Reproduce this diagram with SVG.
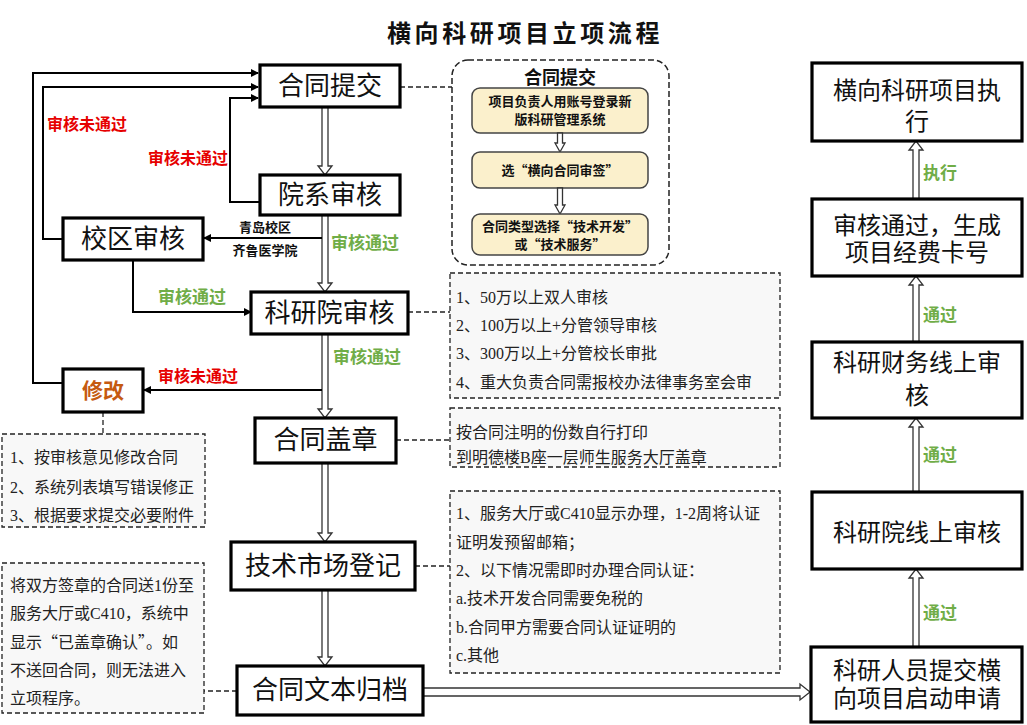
<svg xmlns="http://www.w3.org/2000/svg" width="1027" height="725" viewBox="0 0 1027 725">
<defs>
<marker id="ah" markerWidth="8" markerHeight="8" refX="7" refY="4" orient="auto" markerUnits="userSpaceOnUse">
<path d="M0,0 L8,4 L0,8 Z" fill="#000"/>
</marker>
<style>
.node{fill:#fff;stroke:#000;stroke-width:3.2}
.nt{font-family:"Liberation Serif","Noto Sans CJK SC",serif;font-size:26px;fill:#111;text-anchor:middle}
.rt{font-family:"Liberation Serif","Noto Sans CJK SC",serif;font-size:24px;fill:#111;text-anchor:middle}
.line{fill:none;stroke:#000;stroke-width:2}
.dash{fill:none;stroke:#222;stroke-width:1.3;stroke-dasharray:5 3}
.dbl{fill:#fff;stroke:#333;stroke-width:1.3}
.note{fill:#f8f8f8;stroke:#222;stroke-width:1.3;stroke-dasharray:5 3}
.nx{font-family:"Liberation Serif","Noto Sans CJK SC",serif;font-size:16px;fill:#222}
.red{font-family:"Noto Sans CJK SC",sans-serif;font-size:16px;font-weight:bold;fill:#e60000}
.grn{font-family:"Noto Sans CJK SC",sans-serif;font-size:17px;font-weight:bold;fill:#70ad47}
.sm{font-family:"Noto Sans CJK SC",sans-serif;font-size:13px;font-weight:bold;fill:#111;text-anchor:middle}
.yb{fill:#fbf0cc;stroke:#444;stroke-width:1.5}
.yt{font-family:"Noto Sans CJK SC",sans-serif;font-size:13px;font-weight:bold;fill:#111;text-anchor:middle}
.q{font-family:"Noto Sans CJK SC",sans-serif;font-feature-settings:"fwid" 1}
</style>
</defs>
<rect width="1027" height="725" fill="#fff"/>
<text x="525" y="42" style="font-family:'Noto Sans CJK SC',sans-serif;font-size:24px;font-weight:bold;letter-spacing:3.6px" text-anchor="middle" fill="#111">横向科研项目立项流程</text>

<g id="connectors">
<path class="dbl" d="M322 107 V166 H318 L325 175 L332 166 H328 V107 Z"/>
<path class="dbl" d="M322 215 V283 H318 L325 292 L332 283 H328 V215 Z"/>
<path class="dbl" d="M322 334 V409 H318 L325 418 L332 409 H328 V334 Z"/>
<path class="dbl" d="M322 463 V533 H318 L325 542 L332 533 H328 V463 Z"/>
<path class="dbl" d="M322 590 V657 H318 L325 666 L332 657 H328 V590 Z"/>
<path class="dbl" d="M913 199 V150 H909 L916 141 L923 150 H919 V199 Z"/>
<path class="dbl" d="M913 342 V285 H909 L916 276 L923 285 H919 V342 Z"/>
<path class="dbl" d="M913 492 V427 H909 L916 418 L923 427 H919 V492 Z"/>
<path class="dbl" d="M913 647 V578 H909 L916 569 L923 578 H919 V647 Z"/>
<path class="dbl" d="M423 688 H800 V684 L810 692 L800 700 V696 H423 Z"/>
<path class="line" d="M260 202 H230 V98 H258" marker-end="url(#ah)"/>
<path class="line" d="M63 239 H43 V87 H258" marker-end="url(#ah)"/>
<path class="line" d="M63 383 H33 V73 H258" marker-end="url(#ah)"/>
<path class="line" d="M322 238 H204" marker-end="url(#ah)"/>
<path class="line" d="M133 260 V312 H251" marker-end="url(#ah)"/>
<path class="line" d="M322 390 H144" marker-end="url(#ah)"/>
<path class="dash" d="M400 87 H452"/>
<path class="dash" d="M408 312 H450"/>
<path class="dash" d="M396 440 H450"/>
<path class="dash" d="M415 566 H450"/>
<path class="dash" d="M103 412 V434"/>
<path class="dash" d="M237 691 H204"/>
<text class="red" x="47" y="130">审核未通过</text>
<text class="red" x="148" y="164">审核未通过</text>
<text class="red" x="158" y="382">审核未通过</text>
<text class="grn" x="331" y="249">审核通过</text>
<text class="grn" x="158" y="303">审核通过</text>
<text class="grn" x="333" y="363">审核通过</text>
<text class="sm" x="265" y="232">青岛校区</text>
<text class="sm" x="265" y="255">齐鲁医学院</text>
<text class="grn" x="923" y="179">执行</text>
<text class="grn" x="923" y="321">通过</text>
<text class="grn" x="923" y="461">通过</text>
<text class="grn" x="923" y="619">通过</text>
</g>

<g id="n-submit"><rect class="node" x="260" y="65" width="140" height="42"/><text class="nt" x="330" y="95">合同提交</text></g>
<g id="n-dept"><rect class="node" x="260" y="175" width="140" height="40"/><text class="nt" x="330" y="204">院系审核</text></g>
<g id="n-campus"><rect class="node" x="63" y="218" width="140" height="42"/><text class="nt" x="133" y="248">校区审核</text></g>
<g id="n-kyy"><rect class="node" x="251" y="292" width="157" height="42"/><text class="nt" x="329.5" y="322">科研院审核</text></g>
<g id="n-modify"><rect class="node" x="63" y="369" width="80" height="43"/><text x="103" y="398" text-anchor="middle" style="font-family:'Noto Sans CJK SC',sans-serif;font-size:21px;font-weight:bold;fill:#c55a11">修改</text></g>
<g id="n-seal"><rect class="node" x="255" y="418" width="141" height="45"/><text class="nt" x="325.5" y="449">合同盖章</text></g>
<g id="n-market"><rect class="node" x="231" y="542" width="184" height="48"/><text class="nt" x="323" y="575">技术市场登记</text></g>
<g id="n-archive"><rect class="node" x="237" y="666" width="186" height="49"/><text class="nt" x="330" y="699">合同文本归档</text></g>

<g id="n-exec"><rect class="node" x="812" y="63" width="210" height="78"/><text class="rt" x="917" y="99">横向科研项目执</text><text class="rt" x="917" y="130">行</text></g>
<g id="n-card"><rect class="node" x="812" y="199" width="210" height="77"/><text class="rt" x="917" y="234">审核通过，生成</text><text class="rt" x="917" y="261">项目经费卡号</text></g>
<g id="n-finance"><rect class="node" x="812" y="342" width="210" height="76"/><text class="rt" x="917" y="371">科研财务线上审</text><text class="rt" x="917" y="404">核</text></g>
<g id="n-online"><rect class="node" x="812" y="492" width="210" height="77"/><text class="rt" x="917" y="541">科研院线上审核</text></g>
<g id="n-apply"><rect class="node" x="811" y="647" width="211" height="75"/><text class="rt" x="917" y="679">科研人员提交横</text><text class="rt" x="917" y="707">向项目启动申请</text></g>

<g id="note-submit">
<rect x="452" y="60" width="217" height="205" rx="16" fill="#fff" stroke="#222" stroke-width="1.5" stroke-dasharray="6 3"/>
<text x="560" y="84" text-anchor="middle" style="font-family:'Noto Sans CJK SC',sans-serif;font-size:18px;font-weight:bold;fill:#111">合同提交</text>
<rect class="yb" x="472" y="88" width="176" height="45" rx="8"/>
<text class="yt" x="560" y="106">项目负责人用账号登录新</text>
<text class="yt" x="560" y="124">版科研管理系统</text>
<path class="dbl" d="M557.5 133 V143 H555 L560 152 L565 143 H562.5 V133 Z"/>
<rect class="yb" x="472" y="152" width="176" height="36" rx="8"/>
<text class="yt" x="560" y="175"><tspan class="q">选“横向合同审签”</tspan></text>
<path class="dbl" d="M557.5 188 V205 H555 L560 214 L565 205 H562.5 V188 Z"/>
<rect class="yb" x="472" y="214" width="176" height="41" rx="8"/>
<text class="yt" x="560" y="231"><tspan class="q">合同类型选择“技术开发”</tspan></text>
<text class="yt" x="560" y="249"><tspan class="q">或“技术服务”</tspan></text>
</g>

<g id="note-kyy">
<rect class="note" x="450" y="273" width="330" height="125"/>
<text class="nx" x="456" y="303">1、50万以上双人审核</text>
<text class="nx" x="456" y="331">2、100万以上+分管领导审核</text>
<text class="nx" x="456" y="359">3、300万以上+分管校长审批</text>
<text class="nx" x="456" y="388">4、重大负责合同需报校办法律事务室会审</text>
</g>
<g id="note-seal">
<rect class="note" x="450" y="408" width="330" height="59"/>
<text class="nx" x="456" y="438">按合同注明的份数自行打印</text>
<text class="nx" x="456" y="463">到明德楼B座一层师生服务大厅盖章</text>
</g>
<g id="note-market">
<rect class="note" x="450" y="491" width="330" height="182"/>
<text class="nx" x="456" y="519">1、服务大厅或C410显示办理，1-2周将认证</text>
<text class="nx" x="456" y="548">证明发预留邮箱；</text>
<text class="nx" x="456" y="576">2、以下情况需即时办理合同认证：</text>
<text class="nx" x="456" y="604">a.技术开发合同需要免税的</text>
<text class="nx" x="456" y="633">b.合同甲方需要合同认证证明的</text>
<text class="nx" x="456" y="661">c.其他</text>
</g>
<g id="note-modify">
<rect class="note" x="2" y="434" width="203" height="93"/>
<text class="nx" x="10" y="463">1、按审核意见修改合同</text>
<text class="nx" x="10" y="493">2、系统列表填写错误修正</text>
<text class="nx" x="10" y="521">3、根据要求提交必要附件</text>
</g>
<g id="note-archive">
<rect class="note" x="2" y="563" width="202" height="150"/>
<text class="nx" x="10" y="591">将双方签章的合同送1份至</text>
<text class="nx" x="10" y="619">服务大厅或C410，系统中</text>
<text class="nx" x="10" y="648">显示<tspan class="q">“</tspan>已盖章确认<tspan class="q">”</tspan>。如</text>
<text class="nx" x="10" y="676">不送回合同，则无法进入</text>
<text class="nx" x="10" y="704">立项程序。</text>
</g>
</svg>
